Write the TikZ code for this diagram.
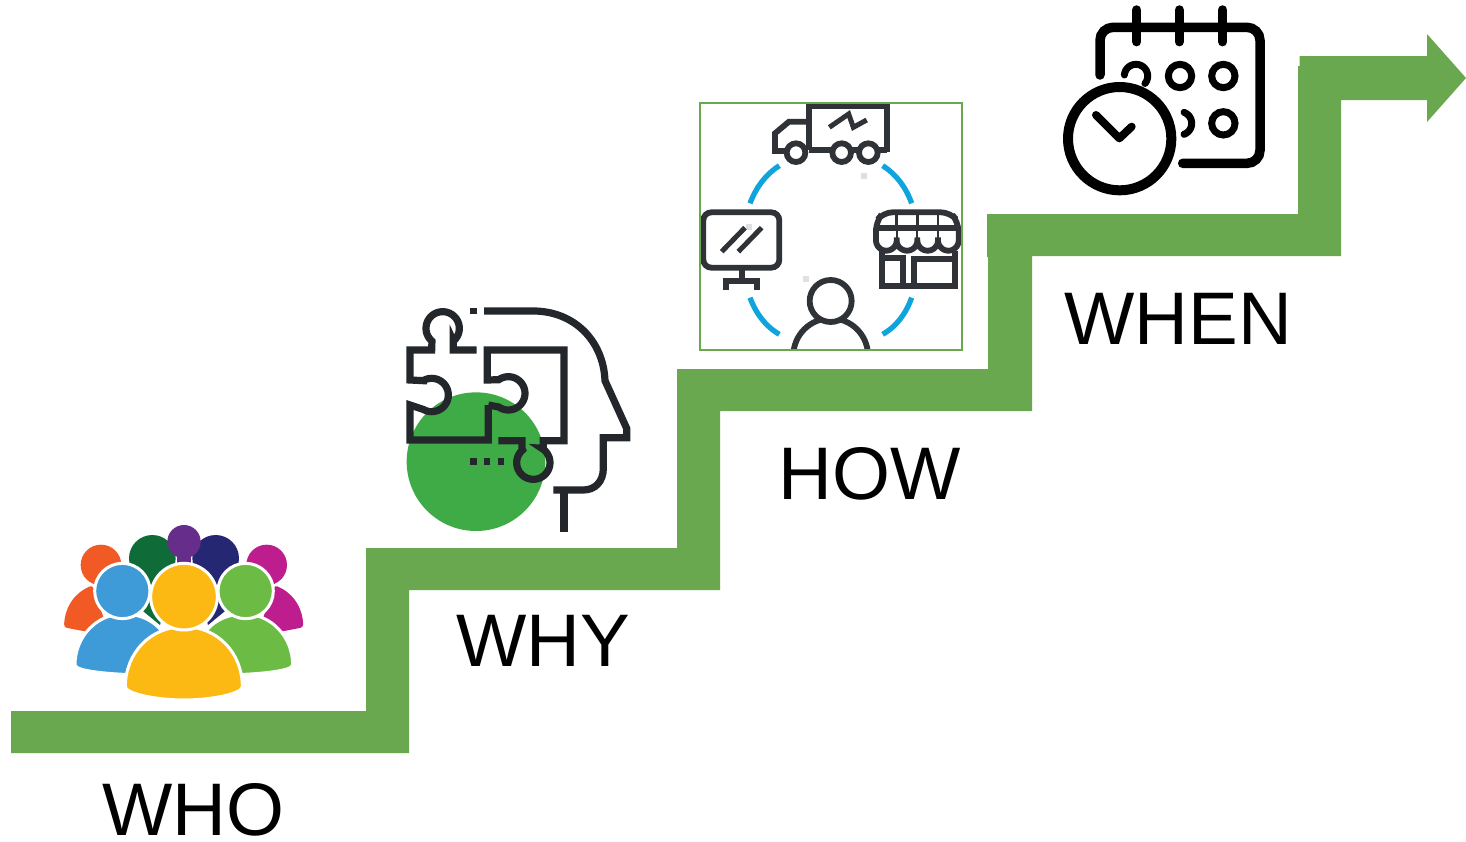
\documentclass[tikz,border=0pt]{standalone}
\usepackage{fontspec}
\setmainfont{Liberation Sans}
\definecolor{stair}{HTML}{6AA84F}
\definecolor{ink}{HTML}{23272B}
\definecolor{ink2}{HTML}{2F3237}
\definecolor{arcblue}{HTML}{0FA5DC}
\definecolor{blob}{HTML}{3FAB47}
\definecolor{pOrange}{HTML}{F15A24}
\definecolor{pDGreen}{HTML}{0F6B38}
\definecolor{pPurple}{HTML}{662D8B}
\definecolor{pNavy}{HTML}{262772}
\definecolor{pMagenta}{HTML}{BE1E8D}
\definecolor{pBlue}{HTML}{3F9BD7}
\definecolor{pGreen}{HTML}{6CBB45}
\definecolor{pYellow}{HTML}{FDB913}
\tikzset{
  steplabel/.style={font=\fontsize{74.5}{74.5}\selectfont,text=black,anchor=base,inner sep=0pt},
  stairfill/.style={fill=stair,draw=none},
  front/.style={draw=white,line width=3pt},
  puzzle/.style={draw=ink,line width=7.2pt,line join=miter},
  gline/.style={draw=ink2,line width=5.8pt},
  blue arc/.style={draw=arcblue,line width=5.3pt},
  cal/.style={draw=black,line width=9.5pt,line cap=round},
  arcp/.style={samples=40},
}
\begin{document}
\begin{tikzpicture}[x=1pt,y=-1pt]
\useasboundingbox (0,0) rectangle (1466,841);
\fill[white] (0,0) rectangle (1466,841);

% stairs
\fill[stairfill] (11,711) -- (366,711) -- (366,548) -- (677,548) -- (677,369) -- (988,369)
  -- (988,257) -- (987,257) -- (987,214) -- (1298,214) -- (1298,66) -- (1299.5,66) -- (1299.5,56)
  -- (1427,56) -- (1427,34) -- (1466,78) -- (1427,122) -- (1427,100) -- (1341,100) -- (1341,256)
  -- (1032,256) -- (1032,411) -- (720,411) -- (720,590) -- (409,590) -- (409,753) -- (11,753) -- cycle;

% labels
\node[steplabel] (who) at (193.5,835) {WHO};
\node[steplabel] (why) at (543,666) {WHY};
\node[steplabel] (how) at (870,499) {HOW};
\node[steplabel] (when) at (1178,344) {WHEN};

% people icon
\begin{scope}[shift={(40,510)},x=0.33333pt,y=-0.33333pt]
  \fill[pOrange] (183,165) circle[radius=61];
  \fill[pOrange,rounded corners=3pt] (72,352) .. controls (75,285) and (110,245) .. (158,226) -- (200,350) -- (140,365) -- cycle;
  \fill[pMagenta] (680,165) circle[radius=61];
  \fill[pMagenta,rounded corners=3pt] (790,352) .. controls (787,285) and (752,245) .. (704,226) -- (660,350) -- (722,365) -- cycle;
  \fill[pDGreen] (337,145) circle[radius=70];
  \fill[pDGreen] (300,200) -- (400,200) -- (360,345) -- (305,300) -- cycle;
  \fill[pNavy] (527,145) circle[radius=70];
  \fill[pNavy] (464,200) -- (564,200) -- (559,300) -- (504,345) -- cycle;
  \fill[pPurple] (432,95) circle[radius=50];
  \fill[pPurple] (412,130) rectangle (452,165);
  \path[fill=pBlue,front] (105,465) .. controls (105,380) and (170,312) .. (250,312)
     .. controls (310,312) and (350,340) .. (370,370) -- (330,495) .. controls (230,495) and (105,485) .. (105,465) -- cycle;
  \path[fill=pBlue,front] (247,243) circle[radius=83];
  \path[fill=pGreen,front] (758,465) .. controls (758,380) and (693,312) .. (613,312)
     .. controls (553,312) and (513,340) .. (493,370) -- (533,495) .. controls (633,495) and (758,485) .. (758,465) -- cycle;
  \path[fill=pGreen,front] (617,243) circle[radius=83];
  \path[fill=pYellow,front] (256,530) .. controls (256,430) and (330,350) .. (432,350)
     .. controls (534,350) and (607,430) .. (607,530) .. controls (607,550) and (520,570) .. (432,570)
     .. controls (345,570) and (256,550) .. (256,530) -- cycle;
  \path[fill=pYellow,front] (432,260) circle[radius=100];
\end{scope}

% head and puzzle icon
\begin{scope}[shift={(390,290)},x=0.33333pt,y=-0.33333pt]
  \fill[blob] (258,515) circle[radius=208];
  % head outline
  \draw[puzzle] (282,63) -- (430,63) .. controls (550,63) and (640,150) .. (645,272)
    -- (710,415) -- (710,443) -- (640,443) -- (640,535) .. controls (640,575) and (615,600) .. (580,600) -- (490,600);
  \draw[puzzle] (522,600) -- (522,725);
  \fill[ink] (240,53) rectangle (260,73);
  \fill[ink] (240,505) rectangle (260,525);
  \fill[ink] (281,505) rectangle (301,525);
  \fill[ink] (323,505) rectangle (343,525);
  % left piece
  \draw[puzzle] (260,180) -- (190,180) -- (190,153) -- plot[arcp,domain=50:-230] ({158+50*cos(\x)},{115+50*sin(\x)}) -- (125,180) -- (60,180) -- (60,270)
    -- (100,272) -- plot[arcp,domain=-120:120] ({125+50*cos(\x)},{315+50*sin(\x)}) -- (60,345) -- (60,450) -- (295,450) -- (295,345);
  % right piece
  \draw[puzzle] (295,345) -- plot[arcp,domain=125:-125] ({355+50*cos(\x)},{310+50*sin(\x)}) -- (292,270) -- (292,180) -- (522,180) -- (522,452) -- (460,452) -- (460,475)
    -- plot[arcp,domain=-60:230] ({430+50*cos(\x)},{518+50*sin(\x)}) -- (396,475) -- (396,452) -- (325,452);
\end{scope}

% how icon
\begin{scope}[shift={(690,95)},x=0.33333pt,y=-0.33333pt]
  \fill[white] (30,24) rectangle (815,766);
  \fill[black!12] (512,234) rectangle (530,252);
  \fill[black!12] (338,544) rectangle (356,562);
  \fill[black!12] (167,388) rectangle (185,406);
  \begin{scope}
    \clip (30,24) rectangle (815,766);
    \draw[blue arc] (268,212) .. controls (225,240) and (198,278) .. (180,325);
    \draw[blue arc] (578,212) .. controls (621,240) and (648,278) .. (665,325);
    \draw[blue arc] (180,608) .. controls (198,655) and (225,693) .. (268,718);
    \draw[blue arc] (665,608) .. controls (648,655) and (621,693) .. (578,718);
    % truck
    \draw[gline] (358,165) -- (358,32) -- (590,32) -- (590,172);
    \draw[gline,line width=6pt] (358,166) -- (590,166);
    \draw[gline] (358,80) -- (297,80) -- (255,115) -- (255,168) -- (285,168);
    \path[fill=white,gline] (318,173) circle[radius=28];
    \path[fill=white,gline] (455,173) circle[radius=28];
    \path[fill=white,gline] (535,173) circle[radius=28];
    \draw[gline,line width=5pt] (418,97) -- (476,57) -- (490,97) -- (530,75);
    % monitor
    \draw[gline,rounded corners=8pt] (40,352) rectangle (268,518);
    \draw[gline] (155,518) -- (155,558);
    \draw[gline] (108,585) -- (108,558) -- (200,558) -- (200,585);
    \draw[gline,line width=5pt] (95,470) -- (165,398);
    \draw[gline,line width=5pt] (145,470) -- (215,398);
    % store
    \draw[gline,rounded corners=9pt] (558,400) -- (558,380) -- (580,352) -- (780,352) -- (805,380) -- (805,400);
    \draw[gline] (558,400) -- (805,400);
    \draw[gline,line width=2.5pt] (620,358) -- (620,400);
    \draw[gline,line width=2.5pt] (682,358) -- (682,400);
    \draw[gline,line width=2.5pt] (744,358) -- (744,400);
    \draw[gline] (558,400) -- (558,436) -- plot[arcp,domain=180:0] ({589+31*cos(\x)},{436+31*sin(\x)}) -- plot[arcp,domain=180:0] ({651+31*cos(\x)},{436+31*sin(\x)}) -- plot[arcp,domain=180:0] ({713+31*cos(\x)},{436+31*sin(\x)}) -- plot[arcp,domain=180:0] ({775+31*cos(\x)},{436+31*sin(\x)}) -- (806,400);
    \draw[gline,line width=2pt] (620,400) -- (620,436);
    \draw[gline,line width=2pt] (682,400) -- (682,436);
    \draw[gline,line width=2pt] (744,400) -- (744,436);
    \draw[gline] (575,468) -- (575,572) -- (795,572) -- (795,468);
    \draw[gline] (575,490) -- (640,490) -- (640,572);
    \draw[gline] (672,572) -- (672,492) -- (795,492);
    % person
    \draw[gline] (422,782) circle[radius=112];
    \path[fill=white,gline] (422,618) circle[radius=63];
  \end{scope}
  \draw[draw=stair,line width=2pt] (30,24) rectangle (815,766);
\end{scope}

% calendar icon
\begin{scope}[shift={(1050,0)},x=0.33333pt,y=-0.33333pt]
  \draw[cal,rounded corners=13pt] (150,225) -- (150,82) -- (630,82) -- (630,490) -- (398,490);
  \draw[cal] (260,30) -- (260,125);
  \draw[cal] (388,30) -- (388,125);
  \draw[cal] (518,30) -- (518,125);
  \draw[cal,line width=7pt,line cap=butt] (390,228) circle[radius=35];
  \draw[cal,line width=7pt,line cap=butt] (520,228) circle[radius=35];
  \draw[cal,line width=7pt,line cap=butt] (520,370) circle[radius=35];
  \draw[cal,line width=7pt] plot[arcp,domain=-175:40] ({258+35*cos(\x)},{228+35*sin(\x)});
  \draw[cal,line width=7pt] plot[arcp,domain=-70:70] ({390+35*cos(\x)},{370+35*sin(\x)});
  \draw[cal,line width=10pt,line cap=butt] (209,416) circle[radius=155];
  \draw[cal,line width=8pt,line join=round] (138,345) -- (208,415) -- (245,380);
\end{scope}
\end{tikzpicture}
\end{document}
